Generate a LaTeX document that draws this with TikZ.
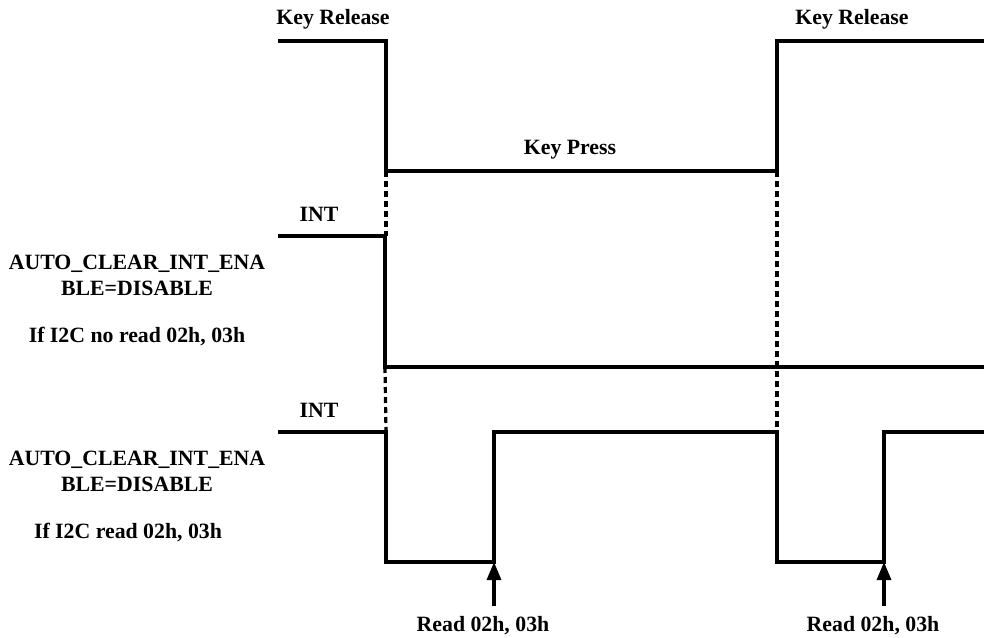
\documentclass[tikz,border=0pt]{standalone}
\usepackage{fontspec}
\setmainfont{Liberation Serif}
\usetikzlibrary{arrows.meta}
\begin{document}
\begin{tikzpicture}[x=1pt,y=-1pt,
  sig/.style={line width=3.2pt,line join=miter},
  guide/.style={line width=3.2pt,dash pattern=on 6pt off 4pt},
  lbl/.style={font=\fontsize{21.8}{25}\selectfont\bfseries,inner sep=0pt},
  readarrow/.style={line width=3.2pt,-{Triangle[length=18pt,width=14pt]}}]
\useasboundingbox (0,0) rectangle (984,637);
% signal 1
\coordinate (s1a) at (278,41);
\coordinate (s1b) at (386,41);
\coordinate (s1c) at (386,171);
\coordinate (s1d) at (777,171);
\coordinate (s1e) at (777,41);
\coordinate (s1f) at (984,41);
\draw[sig] (s1a) -- (s1b) -- (s1c) -- (s1d) -- (s1e) -- (s1f);
% signal 2
\coordinate (s2a) at (278,236);
\coordinate (s2b) at (385,236);
\coordinate (s2c) at (385,367);
\coordinate (s2d) at (984,367);
\draw[sig] (s2a) -- (s2b) -- (s2c) -- (s2d);
% signal 3
\coordinate (s3a) at (278,432);
\coordinate (s3b) at (386,432);
\coordinate (s3c) at (386,562);
\coordinate (s3d) at (494,562);
\coordinate (s3e) at (494,432);
\coordinate (s3f) at (777,432);
\coordinate (s3g) at (777,562);
\coordinate (s3h) at (884,562);
\coordinate (s3i) at (884,432);
\coordinate (s3j) at (984,432);
\draw[sig] (s3a) -- (s3b) -- (s3c) -- (s3d) -- (s3e) -- (s3f) -- (s3g) -- (s3h) -- (s3i) -- (s3j);
% dotted guides
\draw[guide] (s1c) -- (386,236);
\draw[guide] (385,367) -- (s3b);
\draw[guide] (s1d) -- (s3f);
% read arrows
\coordinate (r1) at (494,606);
\coordinate (r2) at (884,606);
\draw[readarrow] (r1) -- (s3d);
\draw[readarrow] (r2) -- (s3h);
% labels
\node[lbl] (kr1) at (333,19) {Key Release};
\node[lbl] (kr2) at (852,19) {Key Release};
\node[lbl] (kp) at (570,150) {Key Press};
\node[lbl] (int1) at (319,214) {INT};
\node[lbl] (int2) at (319,410) {INT};
\node[lbl] (a1) at (137,264) {AUTO\_CLEAR\_INT\_ENA};
\node[lbl] (b1) at (137,288) {BLE=DISABLE};
\node[lbl] (c1) at (137,337) {If I2C no read 02h, 03h};
\node[lbl] (a2) at (137,460) {AUTO\_CLEAR\_INT\_ENA};
\node[lbl] (b2) at (137,484) {BLE=DISABLE};
\node[lbl] (c2) at (128,533) {If I2C read 02h, 03h};
\node[lbl] (rd1) at (483,626) {Read 02h, 03h};
\node[lbl] (rd2) at (873,626) {Read 02h, 03h};
\end{tikzpicture}
\end{document}
